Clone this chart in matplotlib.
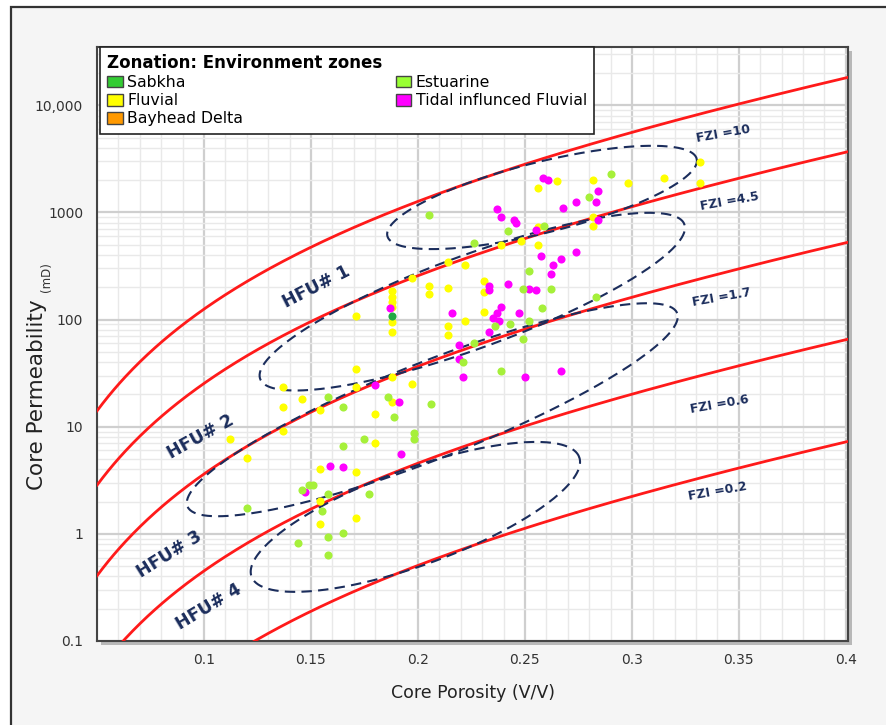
import numpy as np
import matplotlib
matplotlib.use("Agg")
import matplotlib.pyplot as plt
from matplotlib.patches import Rectangle, Patch

# --- data ----------------------------------------------------------------
# porosity (V/V) and permeability (mD) per environment zone
sabkha_phi = [0.188]
sabkha_k = [109]

fluvial_phi = [0.332, 0.332, 0.315, 0.298, 0.282, 0.282, 0.282, 0.265, 0.256, 0.256,
               0.248, 0.239, 0.256, 0.214, 0.222, 0.197, 0.188, 0.188, 0.188, 0.188,
               0.188, 0.188, 0.205, 0.205, 0.214, 0.231, 0.231, 0.231, 0.222, 0.214,
               0.214, 0.171, 0.171, 0.137, 0.171, 0.188, 0.197, 0.137, 0.146, 0.154,
               0.188, 0.180, 0.137, 0.112, 0.120, 0.180, 0.154, 0.171, 0.154, 0.171,
               0.154]
fluvial_k = [2930, 1867, 2080, 1867, 1990, 908, 740, 1950, 1676, 724,
             536, 492, 492, 348, 326, 242, 183, 164, 147, 132,
             94, 76, 206, 175, 199, 231, 179, 118, 98, 88,
             72, 107, 34.5, 23.6, 23.4, 29.3, 25.2, 15.4, 18.3, 14.4,
             17.1, 13.2, 9.2, 7.6, 5.1, 7.1, 4.05, 3.8, 2.03, 1.41,
             1.24]

bayhead_phi = []
bayhead_k = []

estuarine_phi = [0.290, 0.280, 0.205, 0.242, 0.259, 0.226, 0.252, 0.249, 0.262, 0.258,
                 0.236, 0.243, 0.252, 0.249, 0.226, 0.221, 0.239, 0.283, 0.158, 0.165,
                 0.186, 0.189, 0.206, 0.198, 0.198, 0.175, 0.165, 0.146, 0.149, 0.151,
                 0.158, 0.177, 0.120, 0.155, 0.165, 0.158, 0.144, 0.158]
estuarine_k = [2265, 1380, 937, 664, 740, 513, 284, 195, 195, 129,
               88, 90, 98, 66, 61, 40, 33, 161, 18.9, 15.4,
               18.9, 12.4, 16.4, 8.8, 7.6, 7.6, 6.6, 2.58, 2.87, 2.87,
               2.35, 2.35, 1.75, 1.64, 1.02, 0.94, 0.82, 0.63]

tidal_phi = [0.2585, 0.261, 0.284, 0.283, 0.274, 0.268, 0.284, 0.237, 0.239, 0.245,
             0.246, 0.255, 0.2575, 0.267, 0.274, 0.263, 0.262, 0.233, 0.233, 0.242,
             0.252, 0.255, 0.216, 0.239, 0.237, 0.235, 0.238, 0.247, 0.233, 0.219,
             0.219, 0.221, 0.250, 0.267, 0.187, 0.180, 0.191, 0.192, 0.159, 0.165,
             0.147]
tidal_k = [2080, 1990, 1571, 1240, 1240, 1100, 851, 1067, 908, 851,
           798, 679, 388, 367, 423, 326, 269, 206, 189, 217,
           195, 189, 116, 132, 116, 103, 98, 116, 76, 58,
           43, 29.3, 29, 33, 129, 24.4, 17.1, 5.6, 4.3, 4.2,
           2.47]

fzi_values = [10, 4.5, 1.7, 0.6, 0.2]
fzi_labels = ["FZI =10", "FZI =4.5", "FZI =1.7", "FZI =0.6", "FZI =0.2"]
hfu_labels = ["HFU# 1", "HFU# 2", "HFU# 3", "HFU# 4"]

# --- figure -------------------------------------------------------------
W, H = 886, 725
fig = plt.figure(figsize=(W / 100, H / 100), dpi=100, facecolor="white")

# outer panel (only left and top edges are visible in the screenshot)
fig.patches.append(Rectangle((11 / W, -0.1), 1.2, 1.1 - 7 / H, transform=fig.transFigure,
                             facecolor="#f5f5f5", edgecolor="#333333", lw=1.6, zorder=-3))
# shadow of the plot box
fig.patches.append(Rectangle((101 / W, 80 / H), 751 / W, 594 / H, transform=fig.transFigure,
                             facecolor="#b8b8b8", edgecolor="none", zorder=-2))

ax = fig.add_axes([97 / W, 84 / H, 751 / W, 594 / H])
ax.set_facecolor("white")
ax.set_yscale("log")
ax.set_xlim(0.05, 0.401)
ax.set_ylim(0.1, 35000)

ax.set_xticks([0.1, 0.15, 0.2, 0.25, 0.3, 0.35, 0.4])
ax.set_xticklabels(["0.1", "0.15", "0.2", "0.25", "0.3", "0.35", "0.4"])
ax.set_xticks(np.arange(0.05, 0.401, 0.01), minor=True)
ax.set_yticks([0.1, 1, 10, 100, 1000, 10000])
ax.set_yticklabels(["0.1", "1", "10", "100", "1000", "10,000"])
ax.tick_params(which="both", length=0, labelsize=10, labelcolor="#333333")
ax.tick_params(axis="x", pad=9)
ax.tick_params(axis="y", pad=10)
ax.grid(which="major", color="#cfcfcf", lw=1.6, zorder=0)
ax.grid(which="minor", color="#e9e9e9", lw=1.0, zorder=0)
ax.set_axisbelow(True)
for s in ax.spines.values():
    s.set_color("#444444")
    s.set_linewidth(1.5)

# FZI lines
phi = np.linspace(0.05, 0.401, 400)
for f in fzi_values:
    ax.plot(phi, 1014 * f ** 2 * phi ** 3 / (1 - phi) ** 2, color="#ff1a1a", lw=2, zorder=3)

# HFU ellipses, drawn in (porosity/0.05, log10 k) space: cx, ck, a, b, angle
navy = "#1b2d5c"
hfu_ellipses = [(0.258, 1380, 1.49, 0.33, 14),
                (0.2254, 147, 2.11, 0.435, 20),
                (0.2067, 14.4, 2.46, 0.45, 21.5),
                (0.1988, 1.44, 1.63, 0.45, 20)]
t = np.linspace(0, 2 * np.pi, 300)
for cx, ck, a, b, ang in hfu_ellipses:
    th = np.radians(ang)
    u = a * np.cos(t) * np.cos(th) - b * np.sin(t) * np.sin(th)
    v = a * np.cos(t) * np.sin(th) + b * np.sin(t) * np.cos(th)
    ax.plot(cx + 0.05 * u, ck * 10 ** v, color=navy, lw=1.5, ls=(0, (5, 3)), zorder=4)

# points
ax.scatter(fluvial_phi, fluvial_k, s=34, color="#ffff00", lw=0, zorder=5)
ax.scatter(bayhead_phi, bayhead_k, s=34, color="#ff9900", lw=0, zorder=5)
ax.scatter(tidal_phi, tidal_k, s=34, color="#ff00ff", lw=0, zorder=5)
ax.scatter(estuarine_phi, estuarine_k, s=34, color="#a6f03a", lw=0, zorder=5)
ax.scatter(sabkha_phi, sabkha_k, s=34, color="#22aa44", lw=0, zorder=6)

# labels
fzi_pos = [(0.3425, 5470), (0.3458, 1267), (0.342, 161), (0.341, 16.1), (0.340, 2.47)]
for (x, y), lab in zip(fzi_pos, fzi_labels):
    ax.text(x, y, lab, color=navy, fontsize=9, fontweight="bold", rotation=10,
            ha="center", va="center", zorder=7)
hfu_pos = [(0.1527, 203, 27), (0.0986, 8.07, 29), (0.0837, 0.637, 32), (0.1023, 0.208, 31)]
for (x, y, r), lab in zip(hfu_pos, hfu_labels):
    ax.text(x, y, lab, color=navy, fontsize=12.5, fontweight="bold", rotation=r,
            ha="center", va="center", zorder=7)

ax.set_xlabel("Core Porosity (V/V)", fontsize=12.5, color="#222222", labelpad=12)
fig.text(37 / W, 1 - 395 / H, "Core Permeability", rotation=90, fontsize=15.5,
         color="#222222", ha="center", va="center")
fig.text(47 / W, 1 - 277 / H, "(mD)", rotation=90, fontsize=8.5, color="#333333",
         ha="center", va="center")

# legend
handles = [Patch(facecolor="#33cc33", edgecolor="#444444", label="Sabkha"),
           Patch(facecolor="#ffff00", edgecolor="#444444", label="Fluvial"),
           Patch(facecolor="#ff9900", edgecolor="#444444", label="Bayhead Delta"),
           Patch(facecolor="#99ff33", edgecolor="#444444", label="Estuarine"),
           Patch(facecolor="#ff00ff", edgecolor="#444444", label="Tidal influnced Fluvial")]
leg = ax.legend(handles=handles, ncol=2, loc="upper left", bbox_to_anchor=(0.004, 1.0),
                borderaxespad=0, title="Zonation: Environment zones", alignment="left",
                fontsize=11.3, title_fontproperties={"weight": "bold", "size": 12},
                handlelength=1.0, handleheight=0.75, handletextpad=0.3,
                columnspacing=9.7, labelspacing=0.2, borderpad=0.45,
                frameon=True, fancybox=False, framealpha=1)
leg.get_frame().set_edgecolor("#222222")
leg.get_frame().set_linewidth(1.2)
leg.set_zorder(10)

fig.savefig("out.png", dpi=100)
